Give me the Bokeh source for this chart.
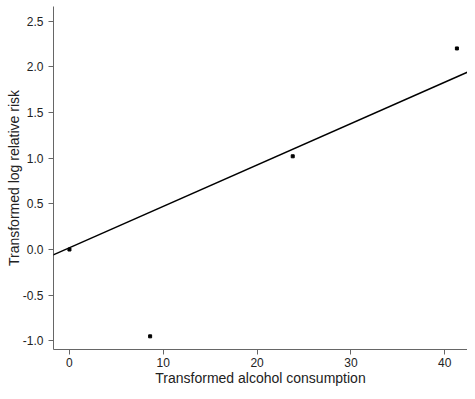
from bokeh.plotting import figure
from bokeh.models import FixedTicker, NumeralTickFormatter, Slope, Range1d
from bokeh.embed import file_html
from bokeh.resources import INLINE

# data
alcohol = [0.0, 8.6, 23.8, 41.3]
log_rr = [0.0, -0.95, 1.02, 2.20]
fit_intercept = 0.019
fit_slope = 0.0453
x_ticks = [0, 10, 20, 30, 40]
y_ticks = [-1.0, -0.5, 0.0, 0.5, 1.0, 1.5, 2.0, 2.5]

FONT = "Liberation Sans"

p = figure(width=467, height=391, output_backend="svg", toolbar_location=None,
           x_range=Range1d(-1.7, 42.43), y_range=Range1d(-1.094, 2.659),
           min_border_left=53, min_border_right=0, min_border_top=6, min_border_bottom=42)
p.outline_line_color = None
p.grid.visible = False
p.background_fill_color = "white"
p.border_fill_color = "white"

p.add_layout(Slope(gradient=fit_slope, y_intercept=fit_intercept, line_color="black", line_width=1.5))
p.scatter(alcohol, log_rr, marker="square", size=3, color="black")

for ax in (p.xaxis[0], p.yaxis[0]):
    ax.axis_line_color = "#666666"
    ax.major_tick_line_color = "#666666"
    ax.minor_tick_line_color = None
    ax.major_tick_out = 5
    ax.major_tick_in = 0
    ax.major_label_text_font = FONT
    ax.major_label_text_font_size = "12px"
    ax.major_label_text_color = "#222222"
    ax.axis_label_text_font = FONT
    ax.axis_label_text_font_size = "14px"
    ax.axis_label_text_font_style = "normal"
    ax.axis_label_text_color = "#222222"

p.xaxis.ticker = FixedTicker(ticks=x_ticks)
p.yaxis.ticker = FixedTicker(ticks=y_ticks)
p.yaxis.formatter = NumeralTickFormatter(format="0.0")
p.xaxis.axis_label = "Transformed alcohol consumption"
p.yaxis.axis_label = "Transformed log relative risk"
p.xaxis.major_label_standoff = 3
p.xaxis.axis_label_standoff = 0
p.yaxis.major_label_standoff = 5
p.yaxis.axis_label_standoff = -2

open("out.html", "w").write(file_html(p, INLINE))
